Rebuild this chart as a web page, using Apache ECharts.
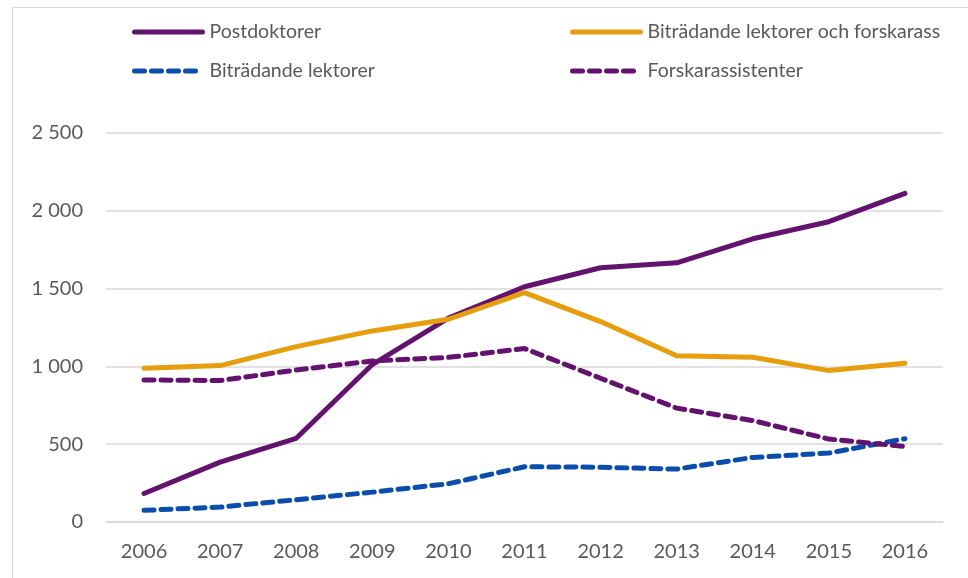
<!DOCTYPE html>
<html>
<head>
<meta charset="utf-8">
<script src="https://cdn.jsdelivr.net/npm/echarts@6/dist/echarts.min.js"></script>
<style>
html,body{margin:0;padding:0;background:#fff;}
#chart{width:968px;height:578px;}
</style>
</head>
<body>
<div id="chart"></div>
<script>
var years = ['2006','2007','2008','2009','2010','2011','2012','2013','2014','2015','2016'];
var postdoktorer = [183, 385, 538, 1012, 1310, 1512, 1634, 1666, 1820, 1930, 2112];
var bitradandeOchForskarass = [988, 1005, 1127, 1228, 1303, 1474, 1288, 1069, 1059, 973, 1020];
var bitradandeLektorer = [75, 96, 143, 192, 246, 355, 352, 340, 415, 443, 535];
var forskarassistenter = [913, 909, 977, 1035, 1058, 1115, 924, 732, 652, 533, 485];
var seriesNames = ['Postdoktorer', 'Biträdande lektorer och forskarass', 'Biträdande lektorer', 'Forskarassistenter'];
var yTicks = [0, 500, 1000, 1500, 2000, 2500];

var PURPLE = '#631270', ORANGE = '#E89E0C', BLUE = '#0B4DAD';
var FONT = 'Lato';

function fmt(v){ return String(v).replace(/\B(?=(\d{3})+(?!\d))/g, ' '); }

var chart = echarts.init(document.getElementById('chart'), null, {renderer:'canvas'});
function mk(name, data, color, dashed){
  return {
    name: name, type: 'line', data: data, showSymbol: false, symbol: 'none',
    lineStyle: {color: color, width: 5, type: dashed ? [10, 7] : 'solid', cap: 'round', join: 'round'},
    itemStyle: {color: color},
    emphasis: {disabled: true}
  };
}
var legendText = {fontFamily: FONT, fontSize: 19.5, color: '#595959', padding: [0, 0, 0, 2]};
var legendBase = {orient: 'vertical', top: 22, padding: 0, itemWidth: 68, itemHeight: 16, itemGap: 19,
  textStyle: legendText, selectedMode: false,
  itemStyle: {opacity: 0, borderWidth: 0},
  lineStyle: {width: 5, cap: 'round'}};
chart.setOption({
  animation: false,
  backgroundColor: '#ffffff',
  graphic: [
    {type:'line', shape:{x1:12.5, y1:7, x2:12.5, y2:578}, style:{stroke:'#d9d9d9', lineWidth:1}},
    {type:'line', shape:{x1:12, y1:7.5, x2:968, y2:7.5}, style:{stroke:'#d9d9d9', lineWidth:1}}
  ],
  legend: [
    Object.assign({}, legendBase, {data: [seriesNames[0], seriesNames[2]], left: 132}),
    Object.assign({}, legendBase, {data: [seriesNames[1], seriesNames[3]], left: 570})
  ],
  grid: {left: 106, right: 25, top: 133, bottom: 56, containLabel: false},
  xAxis: {
    type: 'category', data: years, boundaryGap: true,
    axisLine: {show: true, lineStyle: {color: '#d9d9d9', width: 1.5}},
    axisTick: {show: false},
    axisLabel: {fontFamily: FONT, fontSize: 20, color: '#595959', margin: 20}
  },
  yAxis: {
    type: 'value', min: 0, max: 2500, interval: 500,
    axisLine: {show: false}, axisTick: {show: false},
    splitLine: {lineStyle: {color: '#d9d9d9', width: 1.5}},
    axisLabel: {fontFamily: FONT, fontSize: 20, color: '#595959', margin: 23, formatter: function(v){ return fmt(v); }}
  },
  series: [
    mk(seriesNames[0], postdoktorer, PURPLE, false),
    mk(seriesNames[1], bitradandeOchForskarass, ORANGE, false),
    mk(seriesNames[2], bitradandeLektorer, BLUE, true),
    mk(seriesNames[3], forskarassistenter, PURPLE, true)
  ]
});
</script>
</body>
</html>
